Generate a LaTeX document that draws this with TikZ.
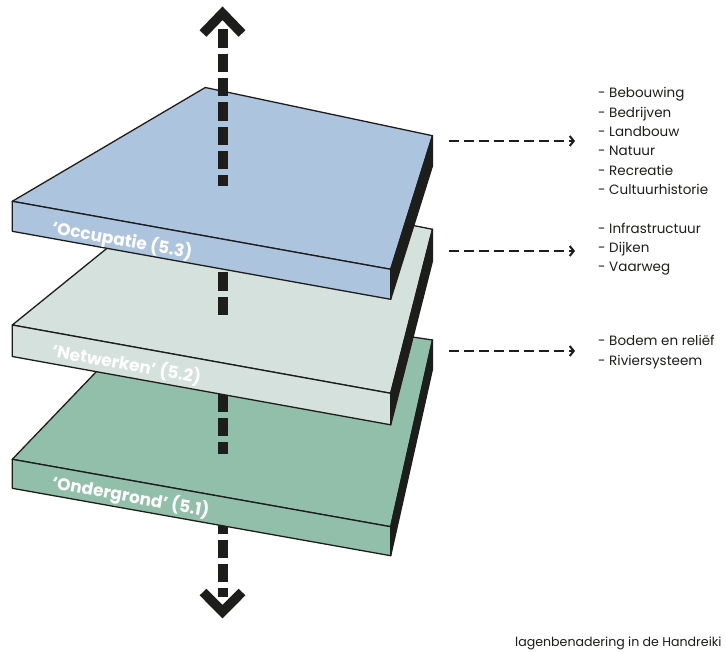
\documentclass[tikz,border=0pt]{standalone}
\usepackage{fontspec}
\setmainfont{Poppins}
\usepackage{tikz}
\usetikzlibrary{arrows.meta,calc}

\definecolor{occblue}{HTML}{ADC4DF}
\definecolor{netgrey}{HTML}{D4E1DC}
\definecolor{ondgreen}{HTML}{92BFAA}
\definecolor{ink}{HTML}{1D1D1B}

\begin{document}
\begin{tikzpicture}[
    x=1pt, y=-1pt,
    face/.style={draw=ink, line width=1.3pt, line join=round},
    axis/.style={draw=ink, line width=10pt, dash pattern=on 18.3pt off 6pt},
    chevron/.style={draw=ink, line width=9.5pt, line join=miter},
    link/.style={draw=ink, line width=2pt, dash pattern=on 10pt off 5pt, -{Straight Barb[length=4pt,width=10pt]}},
    list/.style={align=left, anchor=west, inner sep=0pt, text=ink, font=\fontsize{13.5}{19.3}\selectfont},
    layer/.style={text=white, anchor=west, inner sep=0pt, rotate=-10.2, font=\fontsize{17}{20}\selectfont\bfseries},
    caption/.style={anchor=west, inner sep=0pt, text=ink, font=\fontsize{12.6}{14}\selectfont}
]
\path[use as bounding box, fill=white] (0,0) rectangle (726,651);

% Corners of the layers
\coordinate (occ-bl) at (205.3,87.5);
\coordinate (occ-br) at (432.5,135.7);
\coordinate (occ-fr) at (390.7,269.3);
\coordinate (occ-fl) at (12.3,201.3);

\coordinate (net-bl) at (190,181);
\coordinate (net-br) at (432.5,229.3);
\coordinate (net-fr) at (390.7,393.3);
\coordinate (net-fl) at (12.3,325);

\coordinate (ond-bl) at (165,300);
\coordinate (ond-br) at (432.5,340);
\coordinate (ond-fr) at (390.7,526.7);
\coordinate (ond-fl) at (12.3,459.3);

% Vertical axis
\coordinate (axtop) at (222.5,29.3);
\coordinate (axbot) at (222.5,597);
\coordinate (tipup) at (222.5,13.3);
\coordinate (tipdown) at (222.5,611.6);

\draw[axis] (axtop) -- (axbot);
\draw[chevron] (203,592) -- (tipdown) -- (242,592);

% Ondergrond
\draw[face, fill=ondgreen] (ond-bl) -- (ond-br) -- (ond-fr) -- (ond-fl) -- cycle;
\draw[face, fill=ondgreen] (ond-fl) -- (ond-fr) -- ++(0,29) -- ($(ond-fl)+(0,29)$) -- cycle;
\draw[face, fill=ink] (ond-br) -- ++(0,29) -- ($(ond-fr)+(0,29)$) -- (ond-fr) -- cycle;

\begin{scope}
\clip (0,0) rectangle (726,453);
\draw[axis] (axtop) -- (axbot);
\end{scope}

% Netwerken
\draw[face, fill=netgrey] (net-bl) -- (net-br) -- (net-fr) -- (net-fl) -- cycle;
\draw[face, fill=netgrey] (net-fl) -- (net-fr) -- ++(0,31.5) -- ($(net-fl)+(0,31.5)$) -- cycle;
\draw[face, fill=ink] (net-br) -- ++(0,31.5) -- ($(net-fr)+(0,31.5)$) -- (net-fr) -- cycle;

\begin{scope}
\clip (0,0) rectangle (726,315);
\draw[axis] (axtop) -- (axbot);
\end{scope}

% Occupatie
\draw[face, fill=occblue] (occ-bl) -- (occ-br) -- (occ-fr) -- (occ-fl) -- cycle;
\draw[face, fill=occblue] (occ-fl) -- (occ-fr) -- ++(0,30) -- ($(occ-fl)+(0,30)$) -- cycle;
\draw[face, fill=ink] (occ-br) -- ++(0,30) -- ($(occ-fr)+(0,30)$) -- (occ-fr) -- cycle;

\begin{scope}
\clip (0,0) rectangle (726,185);
\draw[axis] (axtop) -- (axbot);
\end{scope}
\draw[chevron] (203,33.5) -- (tipup) -- (242,33.5);

% Layer names
\node[layer] (occlabel) at (52,228) {‘Occupatie (5.3)};
\node[layer] (netlabel) at (52,351) {‘Netwerken’ (5.2)};
\node[layer] (ondlabel) at (52,483) {‘Ondergrond’ (5.1)};

% Lists
\node[list] (occlist) at (598,141) {- Bebouwing\\- Bedrijven\\- Landbouw\\- Natuur\\- Recreatie\\- Cultuurhistorie};
\node[list] (netlist) at (598,249) {- Infrastructuur\\- Dijken\\- Vaarweg};
\node[list] (ondlist) at (598,352) {- Bodem en reliëf\\- Riviersysteem};

\coordinate (occ-out) at (449,141);
\coordinate (net-out) at (449,251);
\coordinate (ond-out) at (449,351);

\draw[link, shorten >=23pt] (occ-out) -- (occ-out -| occlist.west);
\draw[link, shorten >=23pt] (net-out) -- (net-out -| netlist.west);
\draw[link, shorten >=23pt] (ond-out) -- (ond-out -| ondlist.west);

\node[caption] (caption) at (515,643) {lagenbenadering in de Handreiki};
\end{tikzpicture}
\end{document}
